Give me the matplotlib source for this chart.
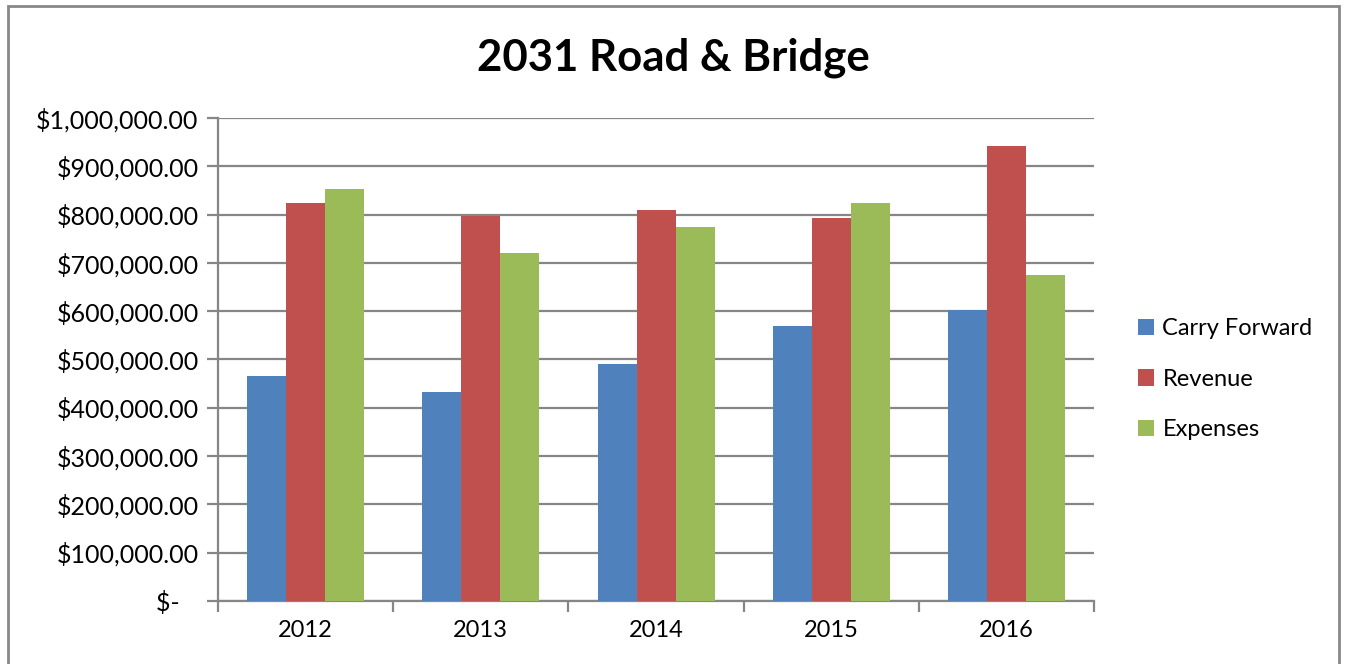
import numpy as np
import matplotlib
matplotlib.use('Agg')
import matplotlib.pyplot as plt
from matplotlib.patches import Rectangle
from matplotlib.ticker import FuncFormatter, MultipleLocator

plt.rcParams['font.family'] = ['Lato', 'DejaVu Sans']

years = ['2012', '2013', '2014', '2015', '2016']
carry_forward = [465000, 433000, 491000, 569000, 603000]
revenue = [823000, 798000, 810000, 792000, 942000]
expenses = [854000, 720000, 774000, 823000, 675000]

series_names = ['Carry Forward', 'Revenue', 'Expenses']
series_colors = ['#4F81BD', '#C0504D', '#9BBB59']

def money(v, pos):
    if v == 0:
        return '$-   '
    return '${:,.2f}'.format(v)

fig = plt.figure(figsize=(13.45, 6.64), dpi=100)
ax = fig.add_axes([0.1621, 0.0949, 0.6513, 0.7274])

x = np.arange(len(years))
w = 0.2226
for i, (vals, name, col) in enumerate(zip([carry_forward, revenue, expenses], series_names, series_colors)):
    ax.bar(x + (i - 1) * w, vals, width=w, color=col, label=name, linewidth=0, zorder=3)

ax.set_xlim(-0.5, len(years) - 0.5)
ax.set_ylim(0, 1000000)
ax.yaxis.set_major_locator(MultipleLocator(100000))
ax.yaxis.set_major_formatter(FuncFormatter(money))
ax.grid(axis='y', color='#868686', linewidth=1.6, zorder=0)

ax.set_xticks(x)
ax.set_xticklabels(years)
ax.set_xticks(np.arange(-0.5, len(years)), minor=True)
ax.tick_params(axis='x', which='major', length=0, labelsize=17, pad=14)
ax.tick_params(axis='x', which='minor', length=8, width=1.6, color='#868686')
ax.tick_params(axis='y', length=8, width=1.6, color='#868686', labelsize=18, pad=6)

for s in ['top', 'right']:
    ax.spines[s].set_visible(False)
for s in ['left', 'bottom']:
    ax.spines[s].set_color('#868686')
    ax.spines[s].set_linewidth(1.6)

fig.text(0.501, 0.913, '2031 Road & Bridge', ha='center', va='center',
         fontsize=31.5, fontweight='bold')

fig.legend(loc='center left', bbox_to_anchor=(0.83, 0.429), frameon=False,
           fontsize=17, handlelength=0.7, handleheight=0.7, handletextpad=0.35,
           labelspacing=1.25)

fig.add_artist(Rectangle((8 / 1345, -0.05), (1339 - 8) / 1345, 1.05 - 6 / 664,
                         transform=fig.transFigure, fill=False,
                         edgecolor='#888888', linewidth=2))

fig.savefig('out.png', dpi=100)
